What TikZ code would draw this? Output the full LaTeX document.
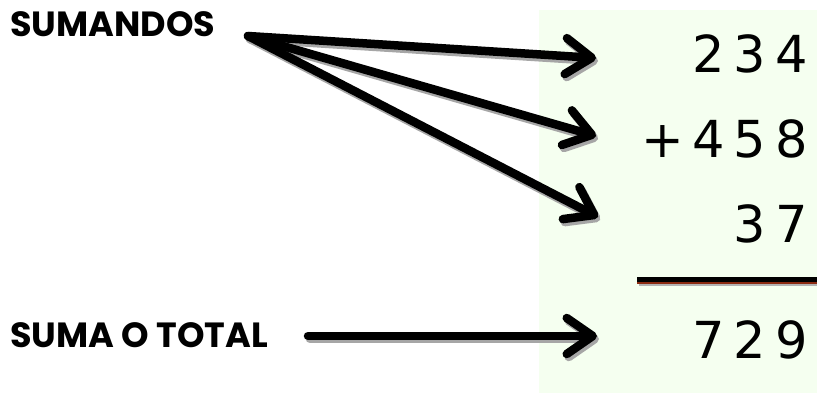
\documentclass[tikz,border=0pt]{standalone}
\usepackage{fontspec}
\usetikzlibrary{arrows.meta}
\newfontfamily\rotulo{Poppins}
\newfontfamily\cifras{DejaVu Sans}
\definecolor{fondo}{HTML}{F5FFF0}
\definecolor{rojizo}{HTML}{8B2A10}

\tikzset{
  punta/.style={-{Straight Barb[length=26pt,width=36pt,round]}},
  flecha/.style={line width=8.5pt, line cap=round, punta},
  sombra/.style={flecha, draw=black!35, transform canvas={shift={(2pt,-3pt)}}},
  etiqueta/.style={font=\rotulo\bfseries\fontsize{35}{35}\selectfont, inner sep=0pt},
  numero/.style={font=\cifras\fontsize{51}{51}\selectfont, inner sep=0pt, anchor=base east}
}

\begin{document}
\begin{tikzpicture}[x=1pt, y=-1pt]
\useasboundingbox (0,0) rectangle (817,393);

% Fondo
\fill[fondo] (539,10) rectangle (817,393);

% Textos
\node[etiqueta, anchor=base west] (sumandos) at (10,37) {SUMANDOS};
\node[etiqueta, anchor=base west] (total) at (10,347) {SUMA O TOTAL};

\node[numero] (n1) at (808,73) {2\kern9pt 3\kern9pt 4};
\node[numero] (n2) at (808,158) {+\kern8pt 4\kern9pt 5\kern9pt 8};
\node[numero] (n3) at (808,242) {3\kern9pt 7};
\node[numero] (res) at (808,358) {7\kern9pt 2\kern9pt 9};

% Raya de la suma
\draw[black!30, line width=2pt] (639,285) -- (817,285);
\draw[rojizo, line width=2.5pt] (637,283) -- (817,283);
\draw[black, line width=5pt] (637,279.5) -- (817,279.5);

% Flechas
\coordinate (vertice) at (248,36);
\coordinate (p1) at (596,58);
\coordinate (p2) at (596,136);
\coordinate (p3) at (598,217);
\coordinate (q0) at (308,336);
\coordinate (q1) at (597,336);

\draw[sombra] (vertice) -- (p1);
\draw[sombra] (vertice) -- (p2);
\draw[sombra] (vertice) -- (p3);
\draw[sombra] (q0) -- (q1);

\draw[flecha] (vertice) -- (p1);
\draw[flecha] (vertice) -- (p2);
\draw[flecha] (vertice) -- (p3);
\draw[flecha] (q0) -- (q1);

\end{tikzpicture}
\end{document}
